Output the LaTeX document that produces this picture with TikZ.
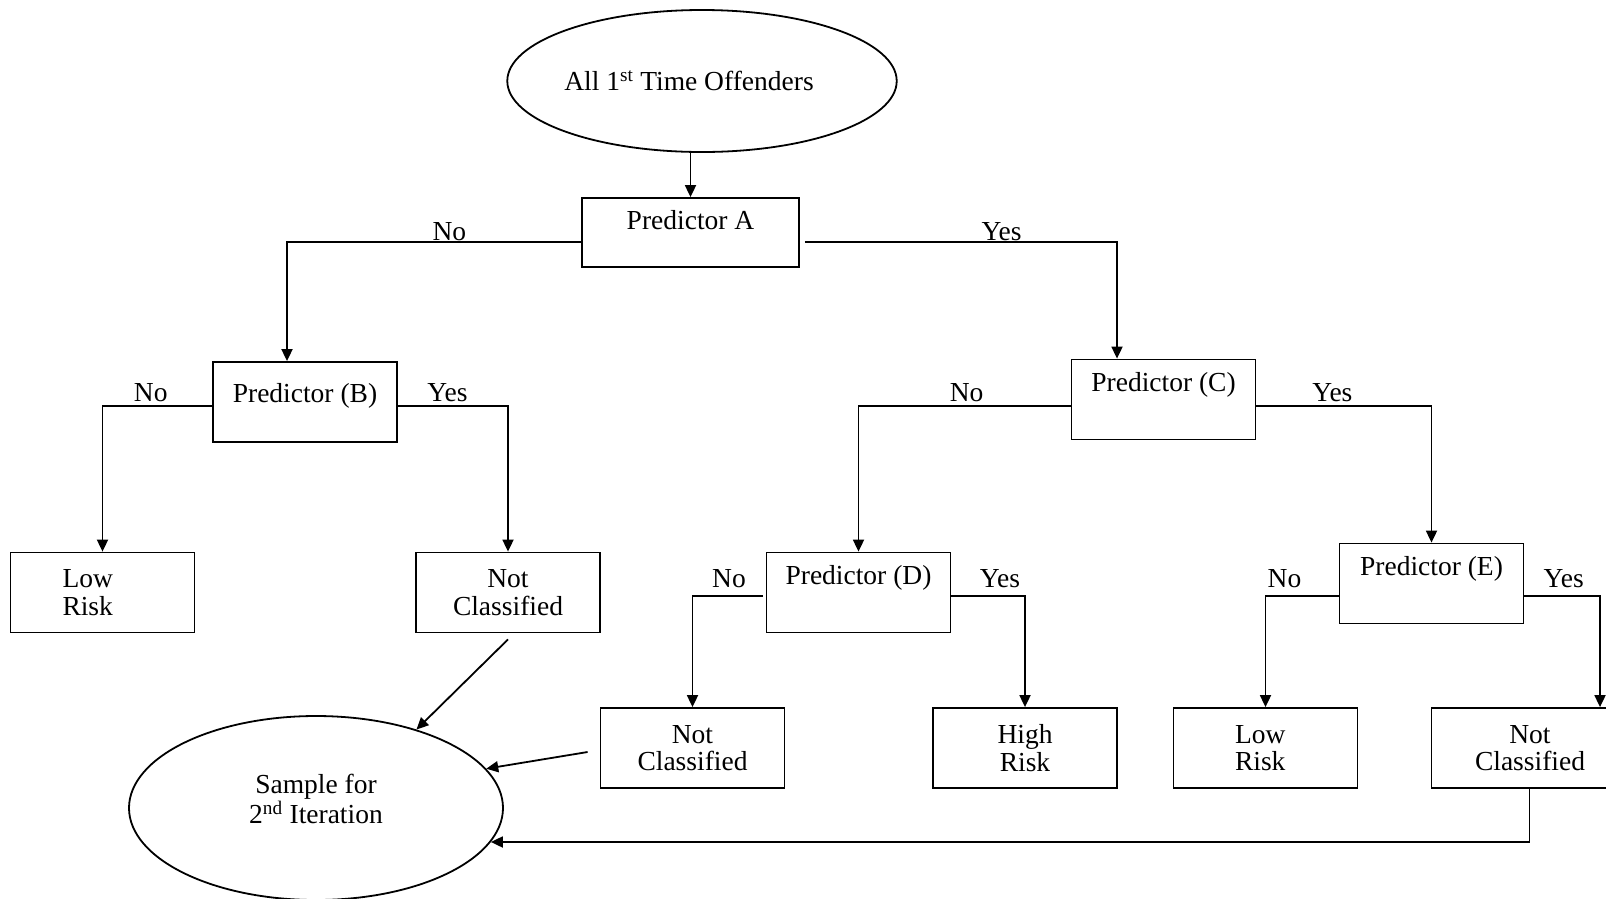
\documentclass[tikz,border=0pt]{standalone}
\usepackage{fontspec}
\setmainfont{Liberation Serif}
\usetikzlibrary{positioning, arrows.meta, shapes.geometric}
\tikzset{
    >={Triangle[length=12pt,width=11pt]}, % filled arrow heads
    pred/.style={draw, minimum width=184pt, minimum height=80pt, inner sep=0pt, text height=19pt, text depth=#1}, % predictor boxes, text sits high
    pred/.default=36pt,
    leaf/.style={draw, minimum width=184pt, minimum height=80pt, align=center, inner sep=0pt}, % outcome boxes
    group/.style={draw, ellipse, align=center, inner sep=0pt}, % samples
    ans/.style={above, inner sep=3pt} % the No / Yes answers
}

\begin{document}
\begin{tikzpicture}[x=1pt, y=-1pt, line width=1.8pt, every node/.style={font=\fontsize{27.5}{27.5}\selectfont}]
        \useasboundingbox (0,0) rectangle (1606,898);

        \node[group, minimum width=388pt, minimum height=142pt] (all) at (702,81) {All 1\textsuperscript{st} Time Offenders\hspace*{26pt}};
        \node[pred=25.6pt, minimum width=217pt, minimum height=69pt] (pa) at (690.5,232.5) {Predictor A};

        \node[pred=18.4pt] (pb) at (305,402) {Predictor (B)};
        \node[pred] (pc) at (1163.5,399.5) {Predictor (C)};
        \node[pred] (pd) at (858.5,592.5) {Predictor (D)};
        \node[pred] (pe) at (1431.5,583.5) {Predictor (E)};

        \node[leaf, text width=80pt, align=left] (lowl) at (102.5,592.5) {Low\\Risk};
        \node[leaf] (ncl) at (508,592.5) {Not\\Classified};
        \node[leaf] (ncm) at (692.5,748) {Not\\Classified};
        \node[leaf] (high) at (1025,748) {High\\Risk};
        \node[leaf, text width=61pt, align=left] (lowr) at (1265.5,748) {Low\\Risk};
        \node[leaf] (ncr) at (1523.5,748) {\hspace*{13pt}Not\\\hspace*{13pt}Classified};

        \node[group, minimum width=374pt, minimum height=184pt] (sample) at (316,808) {Sample for\\2\textsuperscript{nd} Iteration\\[-9pt]\mbox{}};

        \draw[->] (pa.north |- all.south) -- (pa.north);

        \draw[->] ([yshift=-9.5pt]pa.west) -| node[ans, pos=0.224, yshift=-2.5pt] {No} ([xshift=-18pt]pb.north);
        \draw[->] ([xshift=5pt, yshift=-9.5pt]pa.east) -| node[ans, pos=0.315, yshift=-2.5pt] {Yes} ([xshift=-46.5pt]pc.north);

        \draw[->] ([yshift=-4pt]pb.west) -| node[ans, pos=0.28] {No} (lowl.north);
        \draw[->] ([yshift=-4pt]pb.east) -| node[ans, pos=0.225] {Yes} (ncl.north);

        \draw[->] ([yshift=-6.5pt]pc.west) -| node[ans, pos=0.245] {No} (pd.north);
        \draw[->] ([yshift=-6.5pt]pc.east) -| node[ans, pos=0.217] {Yes} (pe.north);

        \draw[->] ([xshift=-3pt, yshift=-3.5pt]pd.west) -| node[ans, pos=0.24, yshift=4pt] {No} (ncm.north);
        \draw[->] ([yshift=-3.5pt]pd.east) -| node[ans, pos=0.33, yshift=4pt] {Yes} (high.north);

        \draw[->] ([yshift=-12.5pt]pe.west) -| node[ans, pos=0.37, yshift=4pt] {No} (lowr.north);
        \draw[->] ([yshift=-12.5pt]pe.east) -| node[ans, pos=0.26, yshift=4pt] {Yes} ([xshift=76.5pt]ncr.north);

        \draw[->] ([yshift=-6pt]ncl.south) -- (sample.38);
        \draw[->] ([xshift=-12pt, yshift=-4pt]ncm.west) -- (sample.13);
        \draw[->] ([xshift=6pt]ncr.south) |- (sample.-11.4);
    \end{tikzpicture}
\end{document}
